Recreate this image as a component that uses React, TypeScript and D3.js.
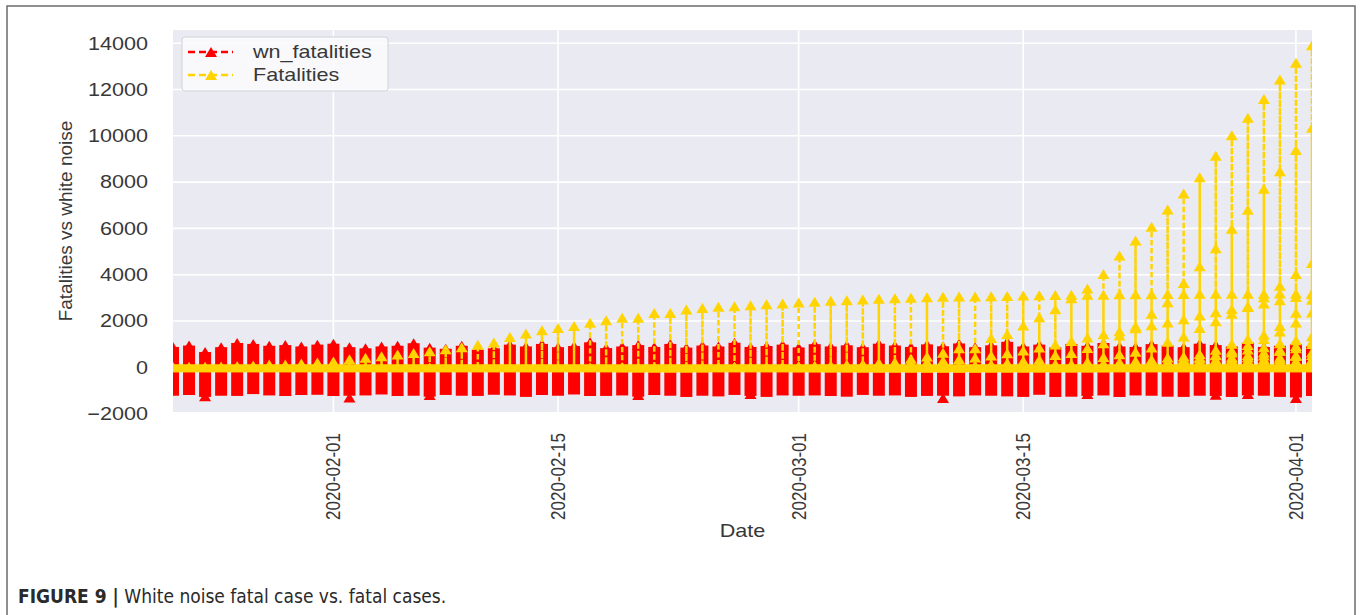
import React from "react";
import * as d3 from "d3";

// ---------- data ----------
const startDate = "2020-01-22";
const dayCount = 72; // 2020-01-22 .. 2020-04-02
const xTickLabels = ["2020-02-01", "2020-02-15", "2020-03-01", "2020-03-15", "2020-04-01"];
const yTicks = [-2000, 0, 2000, 4000, 6000, 8000, 10000, 12000, 14000];
const yMin = -1930;
const yMax = 14570;

// white-noise envelope per day (top / bottom of the red cloud)
const wnHigh = [
  880, 940, 660, 870, 1050, 1010, 930, 960, 900, 980,
  1020, 870, 820, 900, 930, 1040, 850, 800, 930, 760,
  820, 980, 900, 1010, 870, 920, 1080, 830, 900, 960,
  880, 1010, 850, 940, 900, 1060, 880, 920, 980, 860,
  1000, 900, 950, 870, 1020, 940, 880, 990, 910, 1030,
  870, 950, 1100, 900, 980, 860, 1010, 930, 1050, 900,
  880, 1000, 940, 870, 1020, 960, 900, 1060, 880, 930,
  1000, 910,
];
const wnLow = [
  -1000, -980, -1050, -1000, -1010, -940, -990, -1020, -980, -960,
  -1020, -1000, -990, -950, -1020, -1000, -1040, -970, -1000, -1010,
  -960, -990, -1050, -980, -1000, -950, -1020, -1010, -990, -1040,
  -980, -1000, -1060, -1000, -1030, -970, -1010, -1050, -990, -1000,
  -990, -1020, -1040, -970, -1000, -990, -1050, -1010, -1000, -1030,
  -990, -1000, -1030, -1050, -960, -1060, -1040, -1010, -990, -1060,
  -990, -1000, -1040, -1050, -1000, -1010, -1060, -990, -1000, -1050,
  -1080, -1020,
];
const wnTailDays = [2, 11, 16, 29, 36, 48, 57, 65, 67, 70];
const wnTailValues = [-1250, -1300, -1200, -1200, -1150, -1320, -1150, -1180, -1150, -1330];

// Fatalities (cumulative) of the larger regions, each from its first non-zero day
const belgiumStart = 49;
const belgium = [3, 3, 3, 4, 4, 5, 10, 14, 21, 37, 67, 75, 88, 122, 178, 220, 289, 353, 431, 513, 705, 828, 1011];
const brazilStart = 55;
const brazil = [1, 3, 6, 11, 15, 25, 34, 46, 59, 77, 92, 111, 136, 159, 201, 240, 324];
const hubeiStart = 0;
const hubei = [
  17, 17, 24, 40, 52, 76, 125, 125, 162, 204,
  249, 350, 414, 479, 549, 618, 699, 780, 871, 974,
  1068, 1310, 1457, 1596, 1696, 1789, 1921, 2029, 2144, 2144,
  2346, 2346, 2495, 2563, 2615, 2641, 2682, 2727, 2761,
  2803, 2835, 2871, 2902, 2931, 2959, 2986, 3008, 3024, 3046,
  3056, 3062, 3075, 3085, 3099, 3111, 3122, 3130, 3133, 3139,
  3153, 3153, 3160, 3163, 3169, 3174, 3177, 3177, 3182, 3182, 3186,
  3187, 3199,
];
const franceStart = 39;
const france = [
  2, 3, 4, 4, 6, 9, 11, 19, 19, 33,
  48, 48, 79, 91, 91, 148, 148, 148, 243, 450,
  562, 674, 860, 1100, 1331, 1696, 1995, 2314, 2606, 3024, 3523,
  4032, 4503,
];
const germanyStart = 47;
const germany = [2, 2, 3, 3, 7, 9, 11, 17, 24, 28, 44, 67, 84, 94, 123, 157, 206, 267, 342, 433, 533, 645, 775, 920, 1107];
const iranStart = 28;
const iran = [
  2, 2, 4, 5, 8, 12, 16, 19, 26, 34, 43,
  54, 66, 77, 92, 107, 124, 145, 194, 237, 291,
  354, 429, 514, 611, 724, 853, 988, 1135, 1284, 1433,
  1556, 1685, 1812, 1934, 2077, 2234, 2378, 2517, 2640, 2757, 2898,
  3036, 3160,
];
const italyStart = 30;
const italy = [
  1, 2, 3, 7, 10, 12, 17, 21, 29,
  34, 52, 79, 107, 148, 197, 233, 366, 463, 631,
  827, 827, 1266, 1441, 1809, 2158, 2503, 2978, 3405, 4032,
  4825, 5476, 6077, 6820, 7503, 8215, 9134, 10023, 10779, 11591, 12428,
  13155, 13915,
];
const koreaStart = 29;
const korea = [
  1, 2, 2, 6, 8, 10, 12, 13, 13, 16,
  17, 28, 28, 35, 35, 42, 44, 50, 53, 54,
  60, 66, 66, 72, 75, 75, 81, 84, 91, 94,
  102, 104, 111, 120, 126, 131, 139, 144, 152, 158, 162,
  165, 169,
];
const netherlandsStart = 44;
const netherlands = [1, 1, 3, 3, 4, 5, 5, 10, 12, 20, 24, 43, 58, 76, 106, 136, 179, 213, 276, 356, 434, 546, 639, 771, 864, 1039, 1173, 1339];
const spainStart = 41;
const spain = [
  1, 2, 3, 5, 10, 17, 28, 35,
  54, 55, 133, 195, 289, 342, 533, 623, 830, 1043,
  1375, 1772, 2311, 2808, 3647, 4365, 5138, 5982, 6803, 7716, 8464,
  9387, 10348,
];
const switzerlandStart = 43;
const switzerland = [1, 1, 1, 2, 2, 3, 4, 4, 11, 13, 14, 14, 27, 28, 41, 54, 75, 98, 120, 122, 153, 191, 231, 264, 300, 359, 433, 488, 536];
const turkeyStart = 55;
const turkey = [1, 2, 3, 4, 9, 30, 37, 44, 59, 75, 92, 108, 131, 168, 214, 277, 356];
const ukStart = 45;
const uk = [2, 3, 4, 6, 8, 8, 8, 21, 21, 55, 55, 71, 137, 177, 233, 281, 335, 422, 465, 578, 759, 1019, 1228, 1408, 1789, 2352, 2921];
const newJerseyStart = 52;
const newJersey = [2, 2, 3, 5, 9, 11, 16, 20, 27, 44, 62, 81, 108, 140, 161, 198, 267, 355, 537, 646];
const newYorkStart = 52;
const newYork = [2, 3, 10, 13, 24, 38, 44, 114, 114, 157, 210, 285, 385, 519, 728, 965, 1218, 1550, 1941, 2373];

const legendLabels = ["wn_fatalities", "Fatalities"];
const seriesColors = ["#ff0000", "#ffd400"];

// alphabetical order of the rows inside each date
const regions = [
  { start: belgiumStart, values: belgium },
  { start: brazilStart, values: brazil },
  { start: hubeiStart, values: hubei },
  { start: franceStart, values: france },
  { start: germanyStart, values: germany },
  { start: iranStart, values: iran },
  { start: italyStart, values: italy },
  { start: koreaStart, values: korea },
  { start: netherlandsStart, values: netherlands },
  { start: spainStart, values: spain },
  { start: switzerlandStart, values: switzerland },
  { start: turkeyStart, values: turkey },
  { start: ukStart, values: uk },
  { start: newJerseyStart, values: newJersey },
  { start: newYorkStart, values: newYork },
];

// ---------- chart ----------
const FONT = "'Liberation Sans', Arial, Helvetica, sans-serif";
const TEXT = "#383838";
const SX = 1.2; // horizontal stretch of the original figure

function tri(cx: number, cy: number, w: number, h: number) {
  return `M${cx},${cy - h / 2}L${cx - w / 2},${cy + h / 2}L${cx + w / 2},${cy + h / 2}Z`;
}

export default function App() {
  const W = 1360;
  const H = 615;
  const plot = { left: 173, right: 1312, top: 30, bottom: 412 };
  const parse = d3.utcParse("%Y-%m-%d");
  const d0 = parse(startDate) as Date;
  const dates = d3.range(dayCount).map((i) => d3.utcDay.offset(d0, i));
  const x = d3.scaleUtc().domain([dates[0], dates[dates.length - 1]]).range([plot.left, plot.right]);
  const y = d3.scaleLinear().domain([yMin, yMax]).range([plot.bottom, plot.top]);

  const mw = 12; // marker width
  const mh = 10; // marker height
  const colW = 12;

  // Fatalities traversal: rows of each date in order, most rows are 0
  const fatalPts: [number, number][] = [];
  const fatalMarkers: [number, number][] = [];
  dates.forEach((d, i) => {
    const xi = x(d);
    fatalPts.push([xi, y(0)]);
    fatalMarkers.push([xi, y(0)]);
    regions.forEach((r) => {
      const v = i >= r.start ? r.values[i - r.start] : 0;
      if (v > 0) {
        fatalPts.push([xi, y(v)]);
        fatalPts.push([xi, y(0)]);
        fatalMarkers.push([xi, y(v)]);
      }
    });
  });
  const lineGen = d3.line<[number, number]>();
  const fatalPath = lineGen(fatalPts) || "";
  const zeroBand = lineGen([
    [x(dates[0]), y(0) + 1],
    [x(dates[dates.length - 1]), y(0) + 1],
  ]) || "";

  const xTicks = xTickLabels.map((s) => ({ label: s, x: x(parse(s) as Date) }));

  return (
    <svg
      width={W}
      height={H}
      style={{ position: "absolute", left: 0, top: 0, background: "#ffffff" }}
      fontFamily={FONT}
    >
      <defs>
        <clipPath id="plotClip">
          <rect x={plot.left} y={plot.top} width={plot.right - plot.left} height={plot.bottom - plot.top} />
        </clipPath>
      </defs>
      {/* outer frame */}
      <rect x={7} y={6} width={1348} height={700} fill="none" stroke="#6b6b6b" strokeWidth={1.5} />

      {/* axes background and grid */}
      <rect x={plot.left} y={plot.top} width={plot.right - plot.left} height={plot.bottom - plot.top} fill="#eaeaf2" />
      {yTicks.map((t) => (
        <line key={"gy" + t} x1={plot.left} x2={plot.right} y1={y(t)} y2={y(t)} stroke="#ffffff" strokeWidth={1.6} />
      ))}
      {xTicks.map((t) => (
        <line key={"gx" + t.label} x1={t.x} x2={t.x} y1={plot.top} y2={plot.bottom} stroke="#ffffff" strokeWidth={1.6} />
      ))}

      <g clipPath="url(#plotClip)">
        {/* wn_fatalities cloud */}
        {dates.map((d, i) => {
          const xi = x(d);
          const top = y(wnHigh[i]);
          const bot = y(wnLow[i]);
          return (
            <g key={"wn" + i} fill={seriesColors[0]}>
              <rect x={xi - colW / 2} y={top} width={colW} height={bot + mh / 2 - top} />
              <path d={tri(xi, top, mw, mh)} />
              <path d={tri(xi, bot, mw, mh)} />
            </g>
          );
        })}
        {wnTailDays.map((di, k) => {
          const xi = x(dates[di]);
          return (
            <g key={"tail" + k}>
              <line x1={xi} x2={xi} y1={y(wnLow[di])} y2={y(wnTailValues[k])} stroke={seriesColors[0]} strokeWidth={2} strokeDasharray="5 3" />
              <path d={tri(xi, y(wnTailValues[k]), mw, mh)} fill={seriesColors[0]} />
            </g>
          );
        })}

        {/* Fatalities */}
        <path d={zeroBand} stroke={seriesColors[1]} strokeWidth={8} fill="none" />
        <path d={fatalPath} stroke={seriesColors[1]} strokeWidth={2.5} strokeDasharray="5 3" fill="none" />
        {fatalMarkers.map((p, k) => (
          <path key={"fm" + k} d={tri(p[0], p[1], mw, mh)} fill={seriesColors[1]} />
        ))}
      </g>

      {/* y tick labels */}
      {yTicks.map((t) => (
        <text
          key={"ty" + t}
          transform={`translate(148,${y(t)}) scale(${SX},1)`}
          textAnchor="end"
          dominantBaseline="central"
          fontSize={18}
          fill={TEXT}
        >
          {t < 0 ? "\u2212" + Math.abs(t) : String(t)}
        </text>
      ))}

      {/* x tick labels */}
      {xTicks.map((t) => (
        <text
          key={"tx" + t.label}
          transform={`translate(${t.x},433) scale(${SX},1) rotate(-90)`}
          textAnchor="end"
          dominantBaseline="central"
          fontSize={17}
          fill={TEXT}
        >
          {t.label}
        </text>
      ))}

      {/* axis labels */}
      <text
        transform={`translate(${(plot.left + plot.right) / 2},531) scale(${SX},1)`}
        textAnchor="middle"
        dominantBaseline="central"
        fontSize={18}
        fill={TEXT}
      >
        Date
      </text>
      <text
        transform={`translate(65,${(plot.top + plot.bottom) / 2}) rotate(-90)`}
        textAnchor="middle"
        dominantBaseline="central"
        fontSize={19}
        fill={TEXT}
      >
        Fatalities vs white noise
      </text>

      {/* legend */}
      <rect x={182} y={37} width={206} height={54} rx={3} fill="#fbfbfd" fillOpacity={0.9} stroke="#d2d2d8" strokeWidth={1} />
      {legendLabels.map((lab, k) => {
        const cy = 52 + k * 23;
        return (
          <g key={"lg" + k}>
            <line x1={188} x2={233} y1={cy} y2={cy} stroke={seriesColors[k]} strokeWidth={2.5} strokeDasharray="7 4" />
            <path d={tri(211, cy, mw, mh)} fill={seriesColors[k]} />
            <text transform={`translate(253,${cy}) scale(${SX},1)`} dominantBaseline="central" fontSize={18} fill={TEXT}>
              {lab}
            </text>
          </g>
        );
      })}

      {/* caption */}
      <text x={18} y={603} fontSize={19} fill="#2a2a2a" fontFamily="'Liberation Sans Narrow', 'DejaVu Sans Condensed', Arial, sans-serif">
        <tspan fontWeight="bold">FIGURE 9 |</tspan>
        <tspan> White noise fatal case vs. fatal cases.</tspan>
      </text>
    </svg>
  );
}
